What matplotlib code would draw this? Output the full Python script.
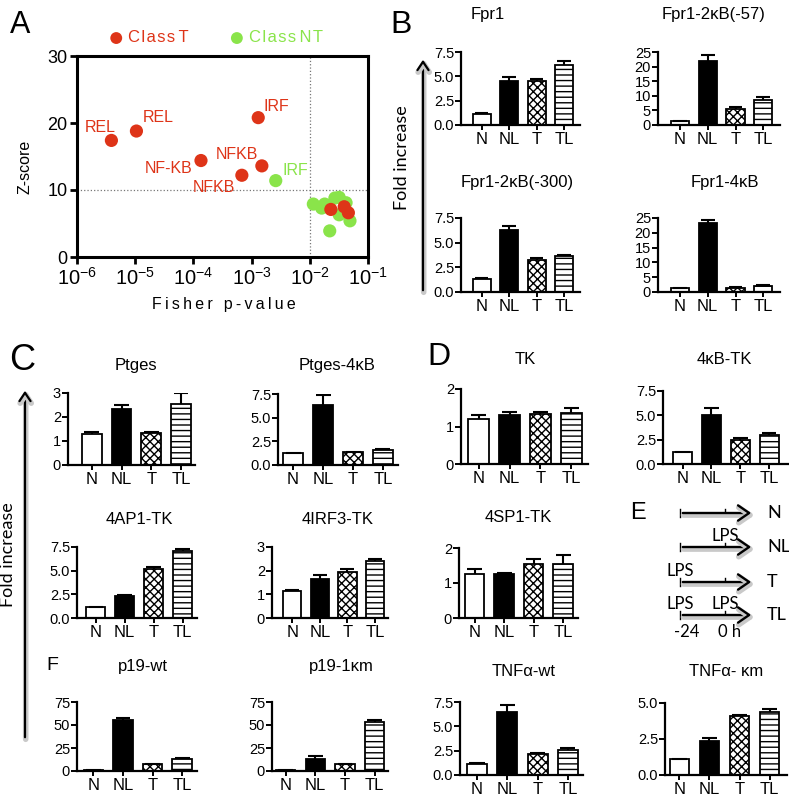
import numpy as np
import matplotlib
matplotlib.use("Agg")
import matplotlib.pyplot as plt
import matplotlib.patheffects as pe
from matplotlib.ticker import FixedLocator, FormatStrFormatter, NullLocator

W, H = 789, 796
RED = '#de3418'
GREEN = '#8ae44a'

plt.rcParams['font.family'] = ['Liberation Sans', 'DejaVu Sans']
plt.rcParams['mathtext.default'] = 'regular'
plt.rcParams['hatch.linewidth'] = 1.0

# ---- panel A data (Fisher p-value, Z-score)
t_p = [3.9e-6, 1.05e-5, 1.3e-3, 1.35e-4, 1.5e-3, 6.8e-4, 0.023, 0.039, 0.046]
t_z = [17.4, 18.8, 20.8, 14.4, 13.6, 12.2, 7.1, 7.5, 6.6]
t_lab = ['REL', 'REL', 'IRF', 'NF-KB', 'NFKB', 'NFKB', '', '', '']
nt_p = [2.6e-3, 0.0115, 0.016, 0.018, 0.027, 0.032, 0.042, 0.032, 0.049, 0.022]
nt_z = [11.4, 7.9, 7.3, 7.9, 8.8, 8.9, 8.1, 6.3, 5.4, 3.9]
nt_lab = ['IRF', '', '', '', '', '', '', '', '', '']

# ---- bar panels data
groups = ['N', 'NL', 'T', 'TL']
fpr1 = [1.15, 4.5, 4.5, 6.15]
fpr1_err = [0.05, 0.45, 0.2, 0.4]
fpr1_57 = [1.2, 22.0, 5.6, 8.7]
fpr1_57_err = [0.2, 2.1, 0.5, 0.9]
fpr1_300 = [1.3, 6.3, 3.2, 3.6]
fpr1_300_err = [0.1, 0.4, 0.2, 0.1]
fpr1_4kb = [1.3, 23.2, 1.5, 2.1]
fpr1_4kb_err = [0.1, 1.0, 0.3, 0.2]
ptges = [1.29, 2.33, 1.34, 2.55]
ptges_err = [0.09, 0.15, 0.04, 0.43]
ptges_4kb = [1.3, 6.35, 1.35, 1.6]
ptges_4kb_err = [0.0, 1.05, 0.05, 0.1]
ap1_tk = [1.16, 2.32, 5.2, 7.1]
ap1_tk_err = [0.03, 0.1, 0.15, 0.15]
irf3_tk = [1.15, 1.65, 1.96, 2.4]
irf3_tk_err = [0.04, 0.15, 0.12, 0.1]
p19_wt = [0.8, 55.0, 7.3, 13.0]
p19_wt_err = [0.2, 3.0, 0.8, 1.2]
p19_km = [0.8, 13.4, 7.6, 53.3]
p19_km_err = [0.1, 2.8, 0.4, 2.5]
tk = [1.2, 1.3, 1.34, 1.36]
tk_err = [0.1, 0.1, 0.06, 0.13]
kb_tk = [1.22, 5.0, 2.47, 3.0]
kb_tk_err = [0.05, 0.8, 0.23, 0.2]
sp1_tk = [1.26, 1.26, 1.54, 1.54]
sp1_tk_err = [0.14, 0.03, 0.14, 0.26]
tnf_wt = [1.17, 6.5, 2.17, 2.6]
tnf_wt_err = [0.05, 0.67, 0.1, 0.13]
tnf_km = [1.09, 2.36, 4.1, 4.39]
tnf_km_err = [0.05, 0.19, 0.06, 0.16]

t75 = [0, 2.5, 5.0, 7.5]
t25 = [0, 5, 10, 15, 20, 25]
t3 = [0, 1, 2, 3]
t2 = [0, 1, 2]
t75b = [0, 25, 50, 75]

# title, values, errors, yticks, fmt, (left, right, top, bottom px), xlim, title pos px
panels = [
    ('Fpr1', fpr1, fpr1_err, t75, '%.1f', (461, 580, 52, 125), (-0.75, 3.58), (488, 15)),
    ('Fpr1-2κB(-57)', fpr1_57, fpr1_57_err, t25, '%d', (658, 780, 52, 125), (-0.79, 3.6), (714, 15)),
    ('Fpr1-2κB(-300)', fpr1_300, fpr1_300_err, t75, '%.1f', (461, 580, 218, 292), (-0.75, 3.58), (517, 182)),
    ('Fpr1-4κB', fpr1_4kb, fpr1_4kb_err, t25, '%d', (658, 780, 218, 292), (-0.79, 3.6), (725, 182)),
    ('Ptges', ptges, ptges_err, t3, '%d', (68, 195, 393, 465), (-0.8, 3.47), (136, 365)),
    ('Ptges-4κB', ptges_4kb, ptges_4kb_err, t75, '%.1f', (278, 398, 394, 465), (-0.5, 3.5), (337, 365)),
    ('4AP1-TK', ap1_tk, ap1_tk_err, t75, '%.1f', (77, 197, 547, 618), (-0.65, 3.5), (139, 520)),
    ('4IRF3-TK', irf3_tk, irf3_tk_err, t3, '%d', (272, 388, 547, 618), (-0.73, 3.47), (338, 520)),
    ('p19-wt', p19_wt, p19_wt_err, t75b, '%d', (77, 197, 702, 771), (-0.55, 3.5), (143, 666)),
    ('p19-1κm', p19_km, p19_km_err, t75b, '%d', (272, 388, 702, 771), (-0.46, 3.45), (341, 666)),
    ('TK', tk, tk_err, t2, '%d', (461, 588, 389, 464), (-0.57, 3.54), (525, 360)),
    ('4κB-TK', kb_tk, kb_tk_err, t75, '%.1f', (663, 788, 391, 464), (-0.68, 3.65), (724, 360)),
    ('4SP1-TK', sp1_tk, sp1_tk_err, t2, '%d', (459, 578, 548, 618), (-0.53, 3.5), (518, 518)),
    ('TNFα-wt', tnf_wt, tnf_wt_err, t75, '%.1f', (460, 583, 702, 775), (-0.56, 3.5), (524, 672)),
    ('TNFα- κm', tnf_km, tnf_km_err, [0, 2.5, 5.0], '%.1f', (665, 787, 703, 775), (-0.48, 3.58), (726, 672)),
]

bar_face = ['white', 'black', 'white', 'white']
bar_hatch = [None, None, 'xxxx', '---']


def px_rect(l, r, t, b):
    return [l / W, 1 - b / H, (r - l) / W, (b - t) / H]


fig = plt.figure(figsize=(W / 100, H / 100), dpi=100)

# ---------------- panel A
axA = fig.add_axes(px_rect(77, 368, 56, 257))
axA.scatter(t_p, t_z, s=90, color=RED, edgecolors='none', zorder=3,
            label='\u200a'.join('Class') + '\u2009T')
axA.scatter(nt_p, nt_z, s=90, color=GREEN, edgecolors='none', zorder=2,
            label='\u200a'.join('Class') + '\u2009N\u200aT')
axA.set_xscale('log')
axA.set_xlim(1e-6, 1e-1)
axA.set_ylim(0, 30)
axA.xaxis.set_major_locator(FixedLocator([1e-6, 1e-5, 1e-4, 1e-3, 1e-2, 1e-1]))
axA.xaxis.set_minor_locator(NullLocator())
axA.set_yticks([0, 10, 20, 30])
axA.axvline(1e-2, color='#777777', ls=':', lw=0.9, zorder=1)
axA.axhline(10, color='#777777', ls=':', lw=0.9, zorder=1)
for s in axA.spines.values():
    s.set_linewidth(2.2)
axA.tick_params(direction='out', length=5, width=2, pad=2)
axA.tick_params(axis='x', labelsize=14.5)
axA.tick_params(axis='y', labelsize=13)

offs_t = [(-8, 9.5), (16, 10), (13, 8), (-23, -5.5), (-18, 8), (-20, -9)]
for p, z, lab, o in zip(t_p, t_z, t_lab, offs_t):
    axA.annotate(lab, (p, z), xytext=o, textcoords='offset points', color=RED,
                 fontsize=11.5, ha='center', va='center')
axA.annotate(nt_lab[0], (nt_p[0], nt_z[0]), xytext=(14, 7.6), textcoords='offset points',
             color=GREEN, fontsize=11.5, ha='center', va='center')

leg = axA.legend(loc='center', bbox_to_anchor=(0.475, 1.09), ncol=2, frameon=False,
                 fontsize=12, handletextpad=0.2, columnspacing=2.4, handlelength=1.0,
                 borderpad=0, markerscale=0.9)
for txt, c in zip(leg.get_texts(), [RED, GREEN]):
    txt.set_color(c)

# ---------------- bar panels
x = np.arange(len(groups))
for title, vals, errs, yt, fmt, rect, xl, tpos in panels:
    ax = fig.add_axes(px_rect(*rect))
    bars = ax.bar(x, vals, width=0.66, color=bar_face, edgecolor='black', linewidth=1.3, zorder=2)
    for b, h in zip(bars, bar_hatch):
        if h:
            b.set_hatch(h)
    top = np.array(vals) + np.array(errs)
    ax.vlines(x, vals, top, color='black', lw=1.5, zorder=3)
    ax.hlines(top, x - 0.25, x + 0.25, color='black', lw=1.5, zorder=3)
    ax.set_xlim(*xl)
    ax.set_ylim(0, yt[-1])
    ax.set_yticks(yt)
    ax.yaxis.set_major_formatter(FormatStrFormatter(fmt))
    ax.set_xticks(x)
    ax.set_xticklabels(groups)
    for s in ['top', 'right']:
        ax.spines[s].set_visible(False)
    for s in ['left', 'bottom']:
        ax.spines[s].set_linewidth(1.6)
    ax.tick_params(axis='y', direction='out', length=4, width=1.4, labelsize=10.5, pad=1)
    ax.tick_params(axis='x', direction='out', length=3.5, width=1.4, labelsize=12, pad=1.5)
    fig.text(tpos[0] / W, 1 - tpos[1] / H, title, fontsize=12, ha='center', va='center')

# ---------------- overlay in pixel coordinates
ov = fig.add_axes([0, 0, 1, 1])
ov.set_xlim(0, W)
ov.set_ylim(H, 0)
ov.axis('off')
ov.patch.set_alpha(0)

for lab, px, py, fs in [('A', 20, 25, 22), ('B', 401, 25, 23), ('C', 22, 360, 26),
                        ('D', 439, 357, 23), ('E', 638, 513, 17), ('F', 52, 665, 14)]:
    ov.text(px, py, lab, fontsize=fs, ha='center', va='center')

ov.text(25, 167, 'Z-score', fontsize=11.5, rotation=90, ha='center', va='center')
ov.text(224, 305, '\u2009'.join('Fisher p-value'), fontsize=11.5, ha='center', va='center')

shadow = [pe.Stroke(linewidth=4, foreground='#c9c9c9', offset=(0.5, -1.5)), pe.Normal()]

# fold increase arrows
for ax_x, y0, y1, tx, ty in [(423, 293, 57, 402, 158), (25, 740, 388, 8, 555)]:
    a = ov.annotate('', xy=(ax_x, y1), xytext=(ax_x, y0),
                    arrowprops=dict(arrowstyle='->,head_length=0.6,head_width=0.4', lw=1.6, color='black'))
    a.arrow_patch.set_path_effects(shadow)
    ov.text(tx, ty, 'Fold increase', family=['Lato', 'DejaVu Sans'], fontsize=13,
            rotation=90, ha='center', va='center')

# panel E scheme
e_rows = [('N', 513, []), ('NL', 547, [725]), ('T', 582, [680]), ('TL', 615, [680, 725])]
for lab, yy, lps in e_rows:
    a = ov.annotate('', xy=(754, yy), xytext=(680, yy),
                    arrowprops=dict(arrowstyle='->,head_length=0.8,head_width=0.55', lw=1.7, color='black'))
    a.arrow_patch.set_path_effects(shadow)
    ov.plot([680, 680], [yy - 4, yy + 4], color='black', lw=1)
    ov.plot([725, 725], [yy - 4, yy + 1], color='black', lw=1)
    ov.text(767, yy, lab, family=['Lato', 'DejaVu Sans'], fontsize=13, ha='left', va='center')
    for lx in lps:
        ov.text(lx, yy - 11, 'LPS', family=['Lato', 'DejaVu Sans'], fontsize=12, ha='center', va='center')
ov.text(687, 632, '-24', family=['Lato', 'DejaVu Sans'], fontsize=12, ha='center', va='center')
ov.text(730, 632, '0 h', family=['Lato', 'DejaVu Sans'], fontsize=12, ha='center', va='center')

fig.savefig('out.png', dpi=100)
